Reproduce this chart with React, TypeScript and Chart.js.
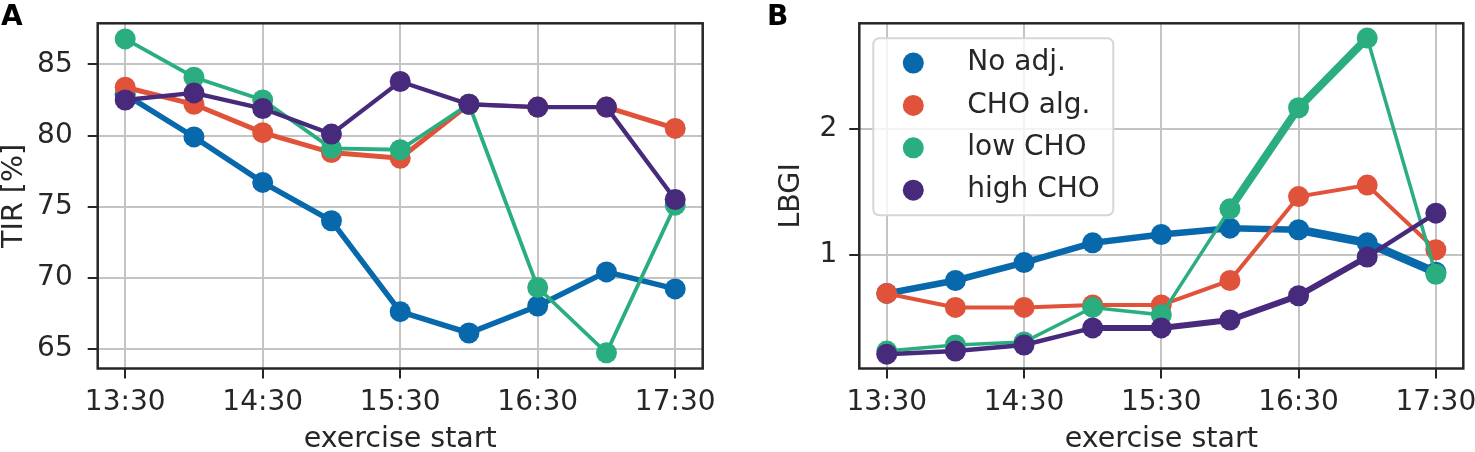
import { useEffect, useRef } from "react"
import { Chart, registerables } from "chart.js"

Chart.register(...registerables)

const times = ["13:30", "14:00", "14:30", "15:00", "15:30", "16:00", "16:30", "17:00", "17:30"]
const xTickLabels = ["13:30", "14:30", "15:30", "16:30", "17:30"]
const seriesNames = ["No adj.", "CHO alg.", "low CHO", "high CHO"]

// panel A: time in range [%]
const tirNoAdj = [82.9, 79.9, 76.7, 74.0, 67.6, 66.1, 68.0, 70.4, 69.2]
const tirChoAlg = [83.4, 82.2, 80.2, 78.8, 78.4, 82.2, 82.0, 82.0, 80.5]
const tirLowCho = [86.8, 84.1, 82.5, 79.1, 79.0, 82.2, 69.3, 64.7, 75.1]
const tirHighCho = [82.5, 83.0, 81.9, 80.1, 83.8, 82.2, 82.0, 82.0, 75.5]
const tirTicks = [65, 70, 75, 80, 85]

// panel B: LBGI (log axis)
const lbgiNoAdj = [0.81, 0.87, 0.96, 1.07, 1.12, 1.16, 1.15, 1.07, 0.91]
const lbgiChoAlg = [0.81, 0.75, 0.75, 0.76, 0.76, 0.87, 1.38, 1.47, 1.03]
const lbgiLowCho = [0.59, 0.61, 0.62, 0.75, 0.72, 1.29, 2.25, 3.3, 0.9]
const lbgiHighCho = [0.58, 0.59, 0.61, 0.67, 0.67, 0.7, 0.8, 0.99, 1.26]
const lbgiTicks = [1, 2]

const COLORS = ["#0868ac", "#e0533a", "#2aae80", "#472a7b"]
const FONT = "'DejaVu Sans', sans-serif"
const TEXT = "#262626"
const GRID = "#c4c4c4"

const framePlugin = {
  id: "frame",
  afterDraw(chart: any) {
    const { ctx, chartArea: a } = chart
    ctx.save()
    ctx.strokeStyle = TEXT
    ctx.lineWidth = 2.5
    ctx.strokeRect(a.left, a.top, a.right - a.left, a.bottom - a.top)
    ctx.restore()
  },
}

const boxLegendPlugin = {
  id: "boxLegend",
  afterDraw(chart: any) {
    const { ctx, chartArea: a } = chart
    const x = a.left + 14
    const y = a.top + 15
    ctx.save()
    ctx.beginPath()
    ctx.roundRect(x, y, 240, 177, 6)
    ctx.fillStyle = "rgba(255,255,255,0.8)"
    ctx.fill()
    ctx.strokeStyle = "#d6d6d6"
    ctx.lineWidth = 2
    ctx.stroke()
    ctx.font = `28px ${FONT}`
    ctx.textBaseline = "middle"
    chart.data.datasets.forEach((ds: any, i: number) => {
      const cy = y + 24.7 + i * 42.4
      ctx.beginPath()
      ctx.arc(x + 40, cy, 10.5, 0, Math.PI * 2)
      ctx.fillStyle = ds.borderColor
      ctx.fill()
      ctx.fillStyle = TEXT
      ctx.fillText(ds.label, x + 94, cy)
    })
    ctx.restore()
  },
}

function makeDataset(values: number[], i: number, width: number, segWidth?: (c: any) => number | undefined) {
  return {
    label: seriesNames[i],
    data: values.map((y, x) => ({ x, y })),
    borderColor: COLORS[i],
    backgroundColor: COLORS[i],
    borderWidth: width,
    pointRadius: 10.5,
    pointHoverRadius: 10.5,
    pointBorderWidth: 0,
    order: 4 - i,
    clip: false as any,
    segment: segWidth ? { borderWidth: segWidth } : undefined,
  }
}

function xScale() {
  return {
    type: "linear" as const,
    min: -0.4,
    max: 8.4,
    bounds: "data" as const,
    afterBuildTicks: (s: any) => {
      s.ticks = xTickLabels.map((t) => ({ value: times.indexOf(t) }))
    },
    afterFit: (s: any) => {
      s.height = 83.5
      s.paddingLeft = 0
      s.paddingRight = 0
    },
    ticks: {
      callback: (v: any) => times[v],
      font: { family: FONT, size: 28, lineHeight: 1 },
      color: TEXT,
      padding: 10,
      maxRotation: 0,
      autoSkip: false,
    },
    grid: { color: GRID, lineWidth: 2, tickLength: 10, tickColor: TEXT, tickWidth: 2 },
    border: { display: false },
    title: {
      display: true,
      text: "exercise start",
      color: TEXT,
      font: { family: FONT, size: 28.5, lineHeight: 1 },
      padding: { top: 0, bottom: -2 },
    },
  }
}

function TirChart() {
  const chartRef = useRef<HTMLCanvasElement>(null)
  const chartInstance = useRef<Chart | null>(null)

  useEffect(() => {
    if (!chartRef.current) return
    if (chartInstance.current) chartInstance.current.destroy()

    chartInstance.current = new Chart(chartRef.current, {
      type: "line",
      data: {
        datasets: [
          makeDataset(tirNoAdj, 0, 5.5),
          makeDataset(tirChoAlg, 1, 5, (c) => (c.p0DataIndex >= 5 && c.p0DataIndex < 7 ? 3.8 : undefined)),
          makeDataset(tirLowCho, 2, 3.8),
          makeDataset(tirHighCho, 3, 4.3),
        ] as any,
      },
      options: {
        animation: false,
        responsive: true,
        maintainAspectRatio: false,
        events: [],
        layout: { padding: { top: 23.3, right: 34.3, bottom: 0, left: 0 } },
        plugins: { legend: { display: false }, tooltip: { enabled: false } },
        scales: {
          x: xScale() as any,
          y: {
            type: "linear",
            min: 63.6,
            max: 87.9,
            bounds: "data",
            afterBuildTicks: (s: any) => {
              s.ticks = tirTicks.map((v) => ({ value: v }))
            },
            afterFit: (s: any) => {
              s.width = 97.7
              s.paddingTop = 0
              s.paddingBottom = 0
            },
            ticks: { font: { family: FONT, size: 28, lineHeight: 1 }, color: TEXT, padding: 15 },
            grid: { color: GRID, lineWidth: 2, tickLength: 10, tickColor: TEXT, tickWidth: 2 },
            border: { display: false },
            title: {
              display: true,
              text: "TIR [%]",
              color: TEXT,
              font: { family: FONT, size: 28.5, lineHeight: 1 },
              padding: { top: 0, bottom: 0 },
            },
          } as any,
        },
      },
      plugins: [framePlugin],
    })

    return () => {
      if (chartInstance.current) {
        chartInstance.current.destroy()
        chartInstance.current = null
      }
    }
  }, [])

  return <canvas ref={chartRef} />
}

function LbgiChart() {
  const chartRef = useRef<HTMLCanvasElement>(null)
  const chartInstance = useRef<Chart | null>(null)

  useEffect(() => {
    if (!chartRef.current) return
    if (chartInstance.current) chartInstance.current.destroy()

    chartInstance.current = new Chart(chartRef.current, {
      type: "line",
      data: {
        datasets: [
          makeDataset(lbgiNoAdj, 0, 6.5, (c) => (c.p0DataIndex >= 6 ? 8.5 : undefined)),
          makeDataset(lbgiChoAlg, 1, 4),
          makeDataset(lbgiLowCho, 2, 3.5, (c) => (c.p0DataIndex === 5 || c.p0DataIndex === 6 ? 8 : undefined)),
          makeDataset(lbgiHighCho, 3, 6, (c) => (c.p0DataIndex === 7 || c.p0DataIndex < 3 ? 4.5 : undefined)),
        ] as any,
      },
      options: {
        animation: false,
        responsive: true,
        maintainAspectRatio: false,
        events: [],
        layout: { padding: { top: 23.3, right: 11.7, bottom: 0, left: 0 } },
        plugins: { legend: { display: false }, tooltip: { enabled: false } },
        scales: {
          x: xScale() as any,
          y: {
            type: "logarithmic",
            min: 0.536,
            max: 3.58,
            afterBuildTicks: (s: any) => {
              s.ticks = lbgiTicks.map((v) => ({ value: v }))
            },
            afterFit: (s: any) => {
              s.width = 82.3
              s.paddingTop = 0
              s.paddingBottom = 0
            },
            ticks: {
              callback: (v: any) => String(v),
              font: { family: FONT, size: 28, lineHeight: 1 },
              color: TEXT,
              padding: 12,
            },
            grid: { color: GRID, lineWidth: 2, tickLength: 10, tickColor: TEXT, tickWidth: 2 },
            border: { display: false },
            title: {
              display: true,
              text: "LBGI",
              color: TEXT,
              font: { family: FONT, size: 28.5, lineHeight: 1 },
              padding: { top: 0, bottom: 0 },
            },
          } as any,
        },
      },
      plugins: [boxLegendPlugin, framePlugin],
    })

    return () => {
      if (chartInstance.current) {
        chartInstance.current.destroy()
        chartInstance.current = null
      }
    }
  }, [])

  return <canvas ref={chartRef} />
}

const panelLabel = {
  position: "absolute" as const,
  top: 2,
  fontFamily: FONT,
  fontSize: 28,
  fontWeight: "bold" as const,
  lineHeight: "28px",
  color: "#000",
}

export default function App() {
  return (
    <div
      style={{
        position: "fixed",
        left: 0,
        top: 0,
        width: 1475,
        height: 452,
        background: "#fff",
        overflow: "hidden",
      }}
    >
      <div style={{ position: "absolute", left: 0, top: 0, width: 737, height: 452 }}>
        <TirChart />
      </div>
      <div style={{ position: "absolute", left: 777, top: 0, width: 698, height: 452 }}>
        <LbgiChart />
      </div>
      <div style={{ ...panelLabel, left: 1 }}>A</div>
      <div style={{ ...panelLabel, left: 767 }}>B</div>
    </div>
  )
}
